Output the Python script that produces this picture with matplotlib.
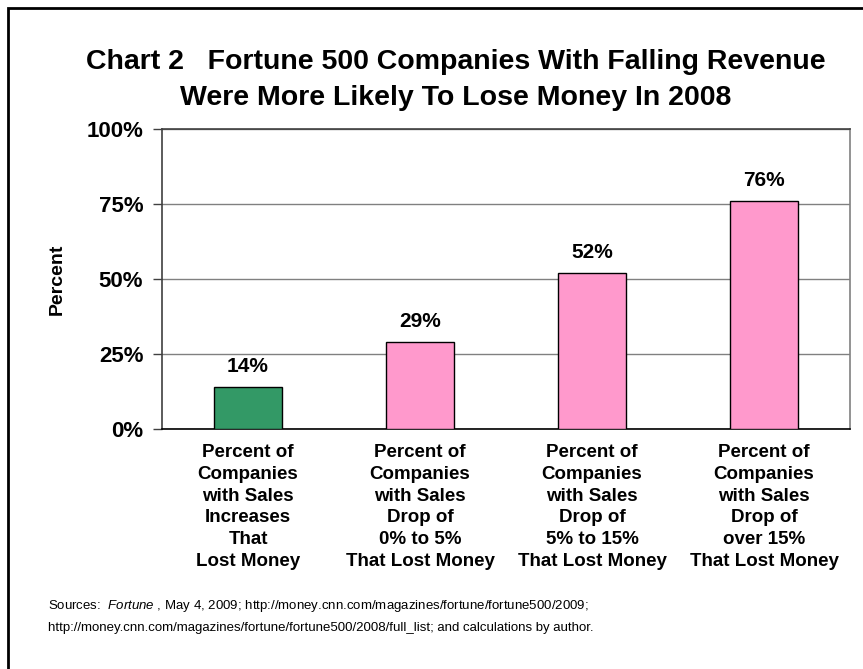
import matplotlib
matplotlib.use('Agg')
import matplotlib.pyplot as plt
from matplotlib.patches import Rectangle

plt.rcParams['font.family'] = ['Liberation Sans', 'DejaVu Sans']
plt.rcParams['mathtext.fontset'] = 'custom'
plt.rcParams['mathtext.rm'] = 'Liberation Sans'
plt.rcParams['mathtext.it'] = 'Liberation Sans:italic'

categories = [
    'Percent of\nCompanies\nwith Sales\nIncreases\nThat\nLost Money',
    'Percent of\nCompanies\nwith Sales\nDrop of\n0% to 5%\nThat Lost Money',
    'Percent of\nCompanies\nwith Sales\nDrop of\n5% to 15%\nThat Lost Money',
    'Percent of\nCompanies\nwith Sales\nDrop of\nover 15%\nThat Lost Money',
]
values = [14, 29, 52, 76]
bar_colors = ['#339966', '#FF99CC', '#FF99CC', '#FF99CC']
yticks = [0, 25, 50, 75, 100]
ytick_labels = ['0%', '25%', '50%', '75%', '100%']

W, H = 863, 669
fig = plt.figure(figsize=(W / 100, H / 100), dpi=100)
ax = fig.add_axes([162 / W, 1 - 429 / H, (850 - 162) / W, (429 - 129) / H])

x = range(len(values))
ax.bar(x, values, width=0.4, color=bar_colors, edgecolor='black', linewidth=1, zorder=3)
for i, v in enumerate(values):
    ax.annotate(f'{v}%', (i, v), xytext=(0, 8), textcoords='offset points',
                ha='center', va='bottom', fontsize=15, fontweight='bold')

ax.set_xlim(-0.5, len(values) - 0.5)
ax.set_ylim(0, 100)
ax.set_yticks(yticks)
ax.set_yticklabels(ytick_labels, fontsize=16, fontweight='bold')
ax.set_xticks(list(x))
ax.set_xticklabels(categories, fontsize=13.5, fontweight='bold', linespacing=1.36, va='top')
ax.tick_params(axis='x', length=0, pad=11)
ax.tick_params(axis='y', length=6.5, width=1, color='#404040', pad=7)
ax.yaxis.grid(True, color='#808080', linewidth=1, zorder=0)
ax.set_axisbelow(True)

ax.spines['left'].set_color('#404040')
ax.spines['bottom'].set_color('black')
ax.spines['top'].set_color('#404040')
ax.spines['right'].set_color('#808080')
for s in ax.spines.values():
    s.set_linewidth(1.2)

ax.set_ylabel('Percent', fontsize=14, fontweight='bold')
ax.yaxis.set_label_coords((66 - 162) / 688, 0.5)

fig.text(456 / W, 1 - 69 / H, 'Chart 2   Fortune 500 Companies With Falling Revenue',
         ha='center', va='baseline', fontsize=20.5, fontweight='bold')
fig.text(456 / W, 1 - 105 / H, 'Were More Likely To Lose Money In 2008',
         ha='center', va='baseline', fontsize=20.5, fontweight='bold')

fig.text(48 / W, 1 - 609 / H,
         r'Sources:  $\mathit{Fortune}$ , May 4, 2009; http://money.cnn.com/magazines/fortune/fortune500/2009;',
         ha='left', va='baseline', fontsize=9.5)
fig.text(48 / W, 1 - 631 / H,
         'http://money.cnn.com/magazines/fortune/fortune500/2008/full_list; and calculations by author.',
         ha='left', va='baseline', fontsize=9.5)

fig.patches.append(Rectangle((8 / W, -0.05), 1.0, 1 - 8 / H + 0.05, transform=fig.transFigure,
                             fill=False, edgecolor='black', linewidth=2))

fig.savefig('out.png', dpi=100)
